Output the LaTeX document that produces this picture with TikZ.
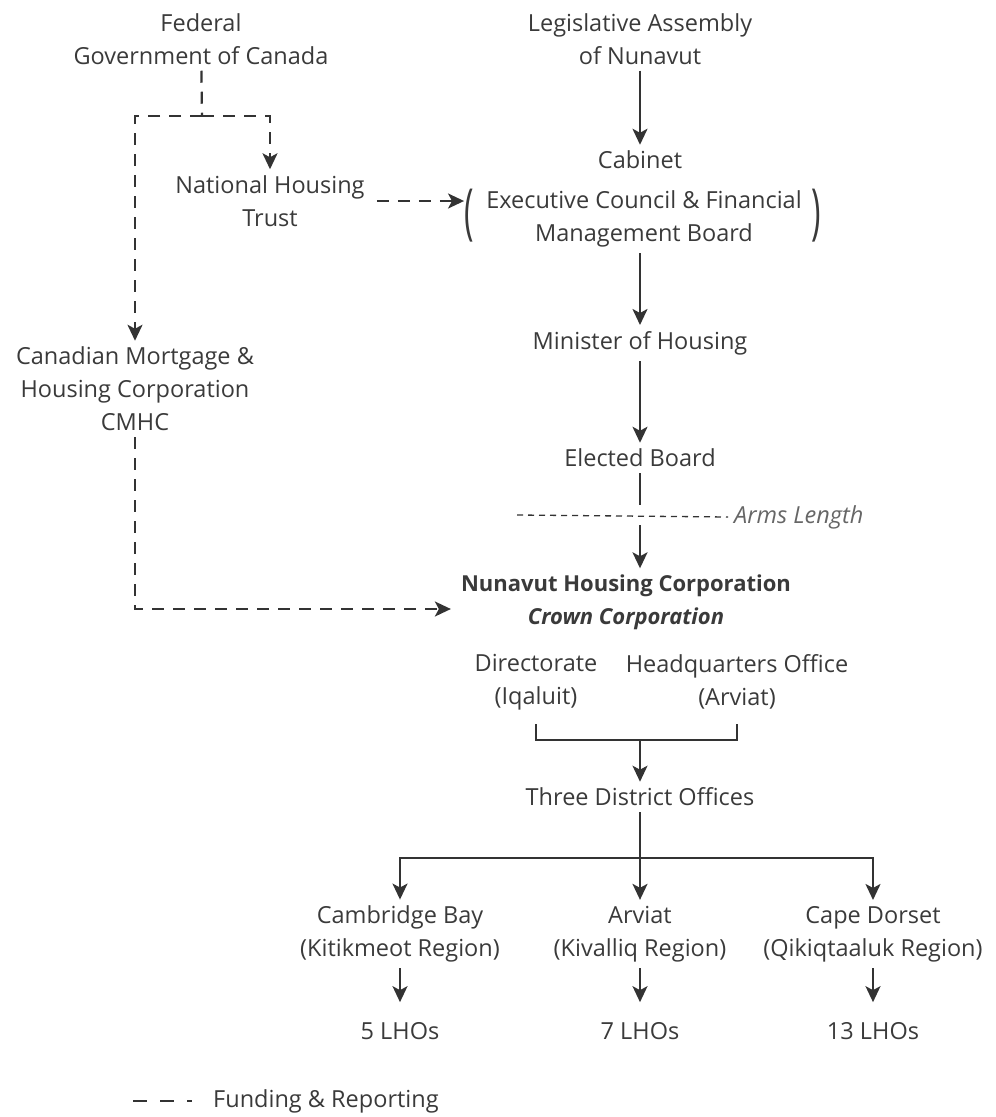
\documentclass[tikz,border=0pt]{standalone}
\usepackage{fontspec}
\setmainfont{Open Sans}
\usepackage{graphicx}
\usetikzlibrary{arrows.meta,positioning}
\definecolor{orgtext}{HTML}{3a3a3a}
\definecolor{orgline}{HTML}{333333}
\definecolor{orgnote}{HTML}{666666}

\tikzset{
  unit/.style={align=center, text=orgtext, inner sep=6pt,
    font=\fontsize{23.5}{33}\selectfont},
  paren/.style={text=orgtext, inner sep=0pt, font=\fontsize{32}{33}\selectfont},
  link/.style={draw=orgline, line width=2.2pt},
  flow/.style={link, -{Stealth[length=16pt,width=15pt,inset=4pt]}},
  fund/.style={link, dash pattern=on 12pt off 9pt},
  fundflow/.style={fund, -{Stealth[length=16pt,width=15pt,inset=4pt]}},
}

\begin{document}
\begin{tikzpicture}[x=1pt,y=-1pt]
  \useasboundingbox (0,0) rectangle (996,1117);

  % federal side
  \node[unit] (fed) at (201,39) {Federal\\Government of Canada};
  \node[unit] (nht) at (270,201) {National Housing\\Trust};
  \node[unit] (cmhc) at (135,389) {Canadian Mortgage \&\\Housing Corporation\\CMHC};

  % territorial side
  \node[unit] (leg) at (640,39) {Legislative Assembly\\of Nunavut};
  \node[unit] (cab) at (640,160) {Cabinet};
  \node[unit] (exec) at (644,219) {Executive Council \& Financial\\Management Board};
  \node[paren] (lpar) at (469,216) {\scalebox{1}[1.9]{(}};
  \node[paren] (rpar) at (816,216) {\scalebox{1}[1.9]{)}};
  \node[unit] (min) at (640,343) {Minister of Housing};
  \node[unit] (eb) at (640,458) {Elected Board};
  \node[unit, font=\fontsize{23.5}{33}\selectfont\itshape, text=orgnote, anchor=west] (arms) at (728,517) {Arms Length};
  \node[unit, font=\fontsize{22}{33}\selectfont\bfseries] (nhc) at (626,602) {Nunavut Housing Corporation\\\textit{Crown Corporation}};

  % corporation
  \node[unit] (dir) at (536,682) {Directorate\\(Iqaluit)};
  \node[unit] (hq) at (737,682) {Headquarters Office\\(Arviat)};
  \node[unit] (tdo) at (640,797) {Three District Offices};
  \node[unit] (cb) at (400,934) {Cambridge Bay\\(Kitikmeot Region)};
  \node[unit] (kv) at (640,934) {Arviat\\(Kivalliq Region)};
  \node[unit] (cd) at (873,934) {Cape Dorset\\(Qikiqtaaluk Region)};
  \node[unit] (lhoa) at (400,1031) {5 LHOs};
  \node[unit] (lhob) at (640,1031) {7 LHOs};
  \node[unit] (lhoc) at (873,1031) {13 LHOs};

  % legend
  \coordinate (keya) at (133,1101);
  \coordinate (keyb) at (192,1101);
  \node[unit, anchor=west] (key) at (207,1101) {Funding \& Reporting};

  % funding lines
  \coordinate (split) at (202,116);
  \draw[fund] (fed) -- (split);
  \draw[fundflow] (split) -| (nht);
  \draw[fundflow] (split) -| (cmhc);
  \draw[fundflow, shorten <=6pt] (nht.east) -- (nht.east -| lpar.west);
  \draw[fundflow, shorten >=4pt] (cmhc) |- ([yshift=-7pt]nhc.west);
  \draw[link, dash pattern=on 14pt off 13pt] (keya) -- (keyb);

  % reporting chain
  \draw[flow] (leg) -- (cab);
  \draw[flow] (exec.south -| min.north) -- (min);
  \draw[flow] (min) -- (eb);
  \coordinate (arm) at (640,515);
  \coordinate (arml) at (517,515);
  \draw[link] (eb) -- ([yshift=10pt]arm);
  \draw[flow] ([yshift=-10pt]arm) -- (nhc.north -| arm);
  \draw[draw=orgline, line width=1.3pt, dash pattern=on 6pt off 5pt] (arml) -- (arms.west);

  % offices
  \coordinate (brk) at (640,740);
  \draw[link] ([yshift=-8pt]dir.south) |- (brk) -| ([yshift=-8pt]hq.south);
  \draw[flow] (brk) -- (tdo);
  \coordinate (fork) at (640,858);
  \draw[link] (tdo) -- (fork);
  \draw[flow] (fork) -| (cb);
  \draw[flow] (fork) -- (kv);
  \draw[flow] (fork) -| (cd);
  \draw[flow, shorten >=14pt] (cb) -- (lhoa);
  \draw[flow, shorten >=14pt] (kv) -- (lhob);
  \draw[flow, shorten >=14pt] (cd) -- (lhoc);
\end{tikzpicture}
\end{document}
